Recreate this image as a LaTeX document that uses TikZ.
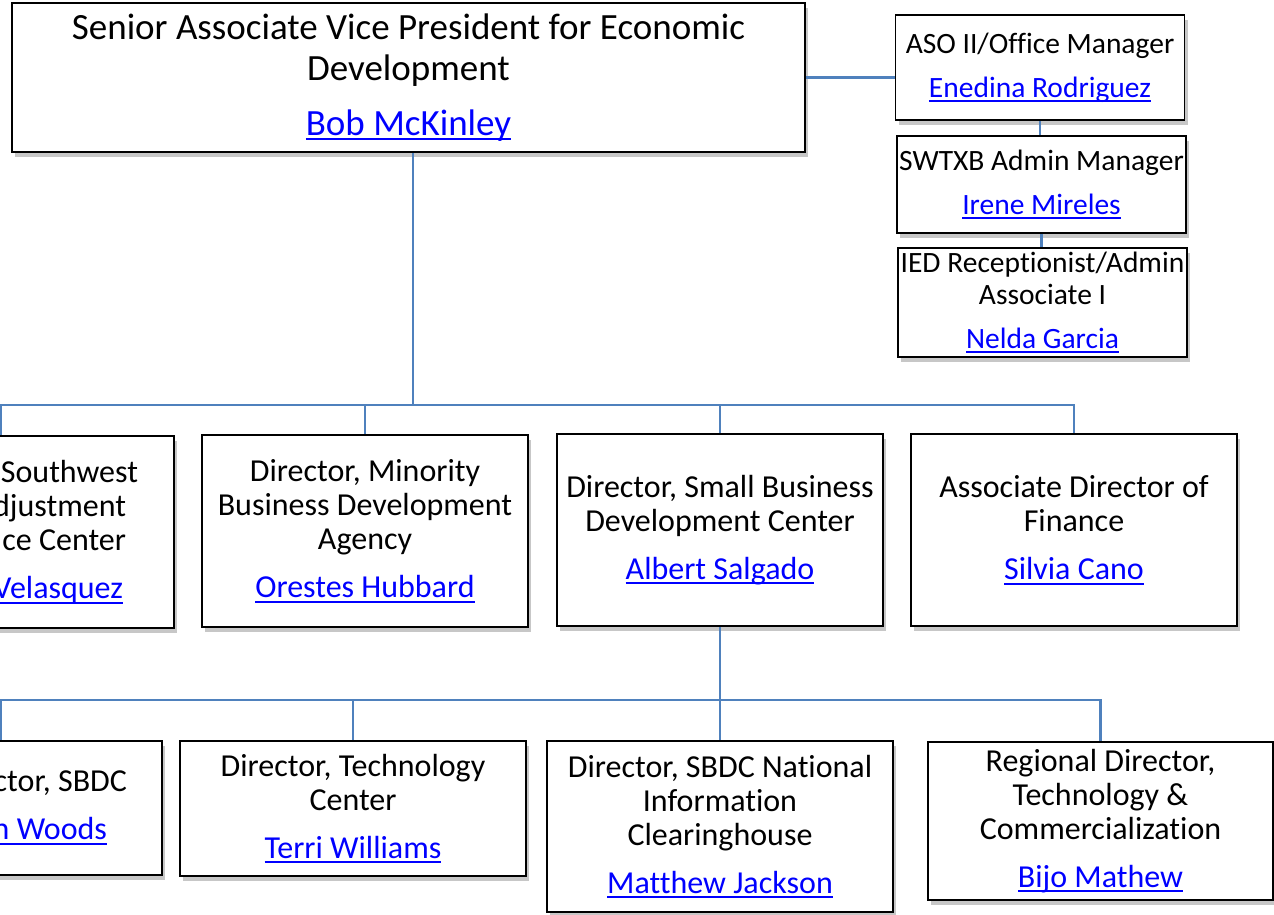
\documentclass[tikz,border=0pt]{standalone}
\usepackage{fontspec}
\setmainfont{Carlito}[Ligatures={NoCommon}]
\usetikzlibrary{positioning,shadows}
\definecolor{clrW}{RGB}{79,129,189}
\definecolor{clrL}{RGB}{0,0,255}
\newcommand{\who}[1]{\textcolor{clrL}{\setbox0\hbox{#1}\rlap{\vrule width\wd0 height -3pt depth 5pt}\box0}}
\frenchspacing

\begin{document}
\begin{tikzpicture}[x=1pt,y=1pt,
   post/.style={rectangle,draw=black,line width=1.6pt,fill=white,inner sep=0pt,align=center,
     drop shadow={shadow xshift=3pt,shadow yshift=-5pt,fill=black!55,opacity=.4}},
   headbox/.style={post,font=\fontsize{37}{41}\selectfont},
   unitbox/.style={post,font=\fontsize{32}{34}\selectfont},
   staffbox/.style={post,font=\fontsize{29.5}{32}\selectfont,minimum width=289pt},
   wire/.style={draw=clrW,line width=2.6pt}]

  \useasboundingbox (0,0) rectangle (1274,-915);
  \clip (0,0) rectangle (1274,-915);

  \node[headbox,minimum width=793pt,minimum height=149pt] (top) at (408.5,-77.5)
    {Senior Associate Vice President for Economic\\Development\\[14pt]\who{Bob McKinley}};

  \node[staffbox,minimum height=105pt] (aso) at (1040,-67.5)
    {ASO II/Office Manager\\[12pt]\who{Enedina Rodriguez}};
  \node[staffbox,minimum height=97pt] (swtxb) at (1041.5,-184.5)
    {SWTXB Admin Manager\\[12pt]\who{Irene Mireles}};
  \node[staffbox,minimum height=109pt] (ied) at (1042.5,-302.5)
    {IED Receptionist/Admin\\Associate I\\[12pt]\who{Nelda Garcia}};

  % second level, the first box runs off the left edge
  \node[unitbox,minimum width=346pt,minimum height=192pt,text width=274pt,inner xsep=36pt,align=flush right]
    (dirA) at (1,-532)
    {Southwest\\djustment\kern12pt\\ce Center\kern12pt\\[14pt]\who{Velasquez}\kern15pt};
  \node[unitbox,minimum width=326pt,minimum height=192pt] (dirB) at (365,-531)
    {Director, Minority\\Business Development\\Agency\\[14pt]\who{Orestes Hubbard}};
  \node[unitbox,minimum width=326pt,minimum height=192pt] (dirC) at (720,-530)
    {Director, Small Business\\Development Center\\[14pt]\who{Albert Salgado}};
  \node[unitbox,minimum width=326pt,minimum height=192pt] (dirD) at (1074,-530)
    {Associate Director of\\Finance\\[14pt]\who{Silvia Cano}};

  % third level
  \node[unitbox,minimum width=322pt,minimum height=134pt,text width=252pt,inner xsep=35pt,align=flush right]
    (dirE) at (1,-808)
    {ctor, SBDC\\[14pt]\who{n Woods}\kern20pt};
  \node[unitbox,minimum width=346pt,minimum height=135pt] (dirF) at (353,-808.5)
    {Director, Technology\\Center\\[14pt]\who{Terri Williams}};
  \node[unitbox,minimum width=346pt,minimum height=171pt] (dirG) at (720,-826.5)
    {Director, SBDC National\\Information\\Clearinghouse\\[14pt]\who{Matthew Jackson}};
  \node[unitbox,minimum width=345pt,minimum height=158pt] (dirH) at (1100.5,-821)
    {Regional Director,\\Technology \&\\Commercialization\\[14pt]\who{Bijo Mathew}};

  \coordinate (hub) at (413,-405);
  \coordinate (hub2) at (720,-700);

  \draw[wire] (top.east) -- (top.east -| aso.west);
  \draw[wire] (aso.south) -- (aso.south |- swtxb.north);
  \draw[wire] (swtxb.south) -- (swtxb.south |- ied.north);

  \draw[wire] (top.south -| hub) -- (hub);
  \foreach \n in {dirA,dirB,dirC,dirD}
    \draw[wire] (hub) -| (\n.north);

  \draw[wire] (dirC.south) -- (dirG.north);
  \foreach \n in {dirE,dirF,dirH}
    \draw[wire] (hub2) -| (\n.north);
\end{tikzpicture}
\end{document}
